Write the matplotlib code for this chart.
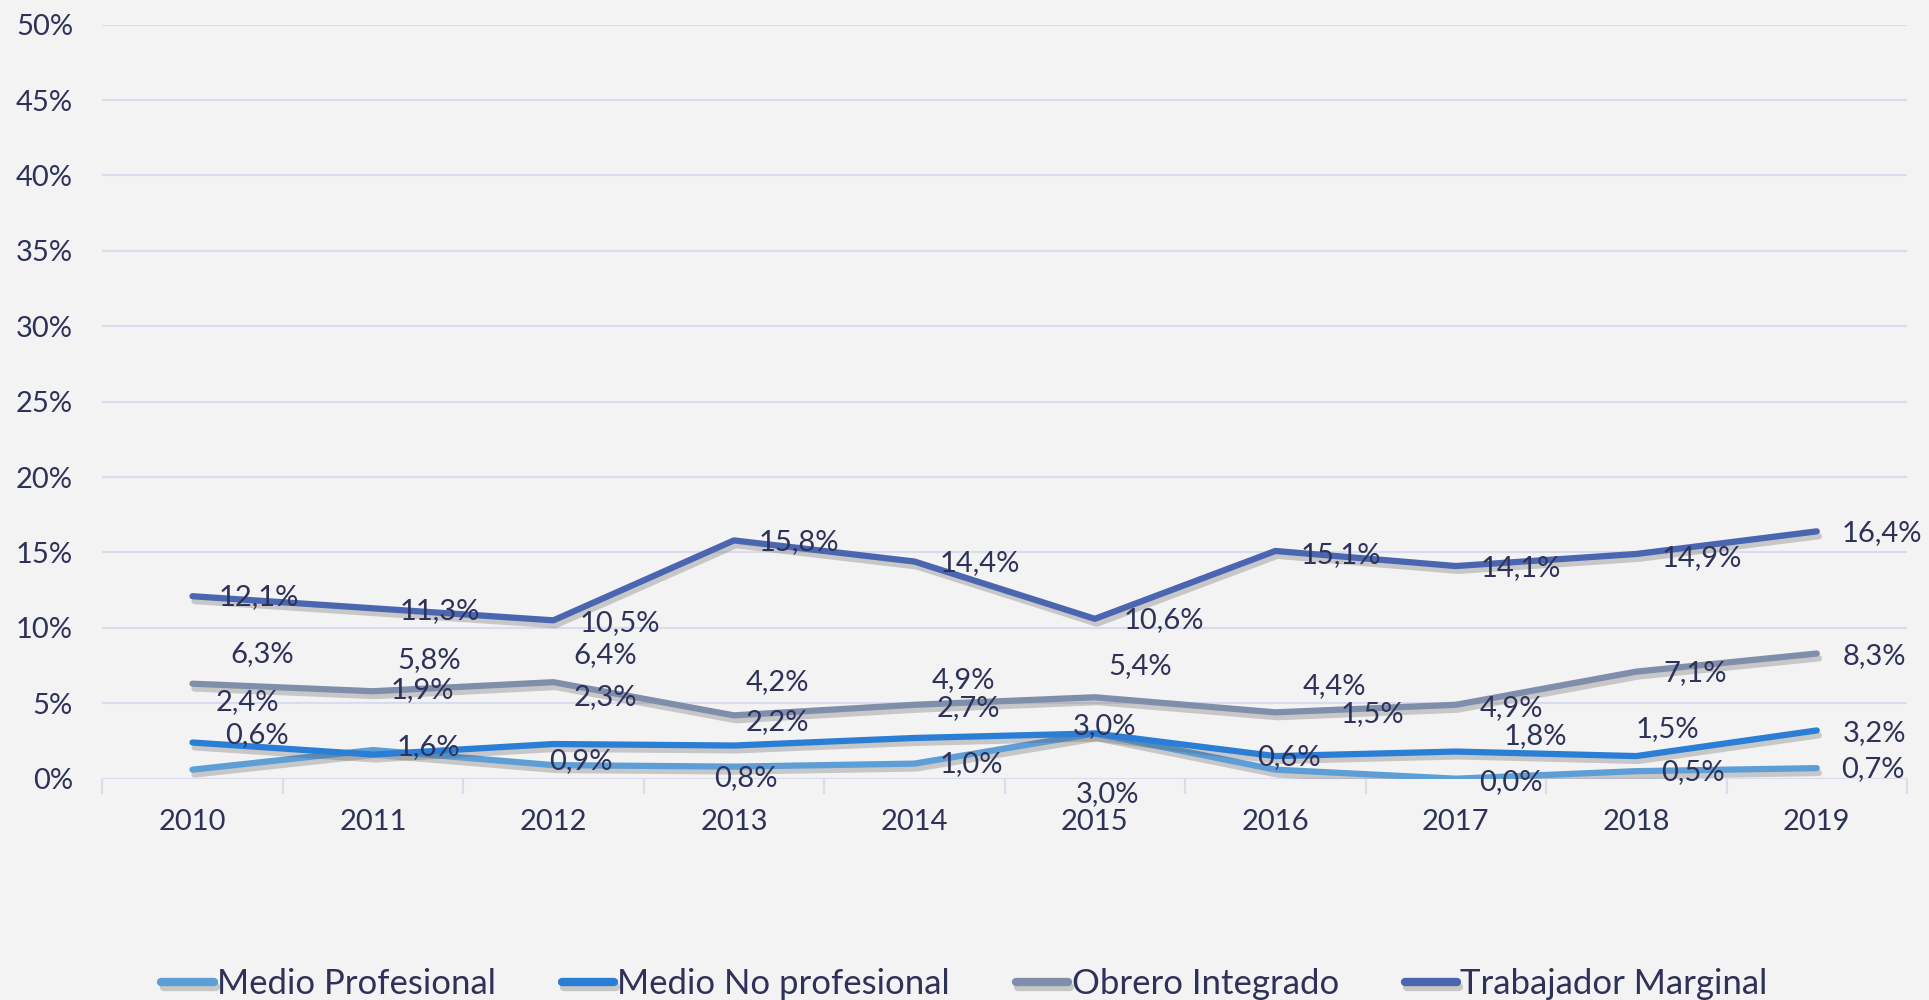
import numpy as np
import matplotlib
matplotlib.use('Agg')
import matplotlib.pyplot as plt
import matplotlib.patheffects as pe

# data
years = ['2010', '2011', '2012', '2013', '2014', '2015', '2016', '2017', '2018', '2019']
medio_prof = [0.6, 1.9, 0.9, 0.8, 1.0, 3.0, 0.6, 0.0, 0.5, 0.7]
medio_noprof = [2.4, 1.6, 2.3, 2.2, 2.7, 3.0, 1.5, 1.8, 1.5, 3.2]
obrero = [6.3, 5.8, 6.4, 4.2, 4.9, 5.4, 4.4, 4.9, 7.1, 8.3]
marginal = [12.1, 11.3, 10.5, 15.8, 14.4, 10.6, 15.1, 14.1, 14.9, 16.4]
names = ['Medio Profesional', 'Medio No profesional', 'Obrero Integrado', 'Trabajador Marginal']

# label offsets (reference pixels, y down) - labels were dragged around in the original
off_prof = [(52, -28), (40, -49), (22, -3), (10, 9), (46, 0), (10, 49), (11, -10), (45, 3), (46, 1), (46, 1)]
off_noprof = [(45, -33), (45, -6), (42, -38), (35, -19), (44, -24), (8, -6), (79, -34), (65, -13), (25, -22), (47, 2)]
off_obrero = [(57, -24), (46, -25), (42, -22), (35, -27), (40, -20), (37, -25), (48, -21), (45, 3), (48, 1), (47, 2)]
off_marg = [(54, 1), (54, 2), (54, 2), (53, 1), (53, 1), (56, 1), (53, 3), (53, 2), (53, 3), (53, 1)]

colors = ['#5E9ED6', '#2A7ED6', '#7F8EAA', '#4A66B0']
txt_color = '#2E3259'
grid_color = '#DADBEF'
bg = '#F3F3F3'

plt.rcParams['font.family'] = ['Lato', 'DejaVu Sans']

fig = plt.figure(figsize=(19.29, 10), dpi=100, facecolor=bg)
ax = fig.add_axes([0.053, 0.2213, 0.9356, 0.7541])
ax.set_facecolor(bg)

x = np.arange(len(years))
series = [medio_prof, medio_noprof, obrero, marginal]
offsets = [off_prof, off_noprof, off_obrero, off_marg]
k = 1929 / 1568 * 72 / 100

for vals, name, col, offs in zip(series, names, colors, offsets):
    ax.plot(x, vals, color=col, lw=4.5, label=name, solid_capstyle='round', zorder=3,
            path_effects=[pe.SimpleLineShadow(offset=(1.5, -3.5), shadow_color='#555555', alpha=0.28),
                          pe.Normal()])
    for xi, v, (dx, dy) in zip(x, vals, offs):
        ax.annotate(f'{v:.1f}%'.replace('.', ','), (xi, v), xytext=(dx * k, -dy * k),
                    textcoords='offset points', ha='center', va='center',
                    fontsize=21, color=txt_color, zorder=5)

ax.set_xlim(-0.5, 9.5)
ax.set_ylim(0, 50)
ax.set_yticks(np.arange(0, 51, 5))
ax.set_yticklabels([f'{v}%' for v in range(0, 51, 5)])
ax.set_xticks(x)
ax.set_xticklabels(years)
ax.set_xticks(np.arange(-0.5, 10, 1), minor=True)
ax.tick_params(axis='x', which='major', length=0, pad=22, labelsize=21, labelcolor=txt_color)
ax.tick_params(axis='x', which='minor', length=11, width=1.5, color=grid_color, direction='out')
ax.tick_params(axis='y', length=0, pad=21, labelsize=21, labelcolor=txt_color)
ax.yaxis.grid(True, color=grid_color, lw=1.5)
ax.set_axisbelow(True)
for s in ax.spines.values():
    s.set_visible(False)

leg = fig.legend(loc='center', bbox_to_anchor=(0.5, 0.016), ncol=4, frameon=False,
                 fontsize=25, handlelength=1.5, handletextpad=0.1, columnspacing=1.9)
for t in leg.get_texts():
    t.set_color(txt_color)
for h in leg.legend_handles:
    h.set_linewidth(6)

fig.savefig('out.png', dpi=100, facecolor=bg)
